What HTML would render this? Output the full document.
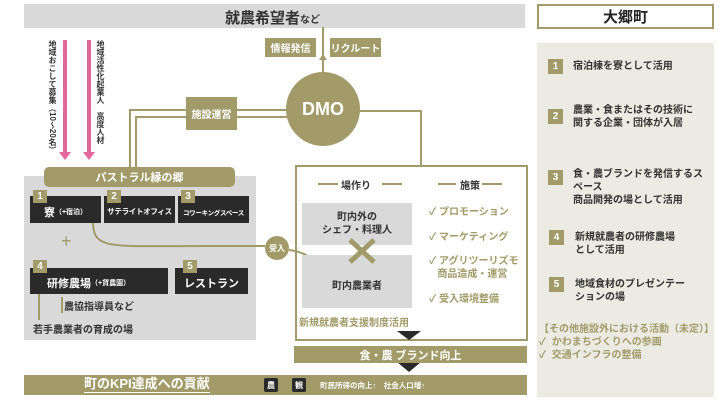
<!DOCTYPE html>
<html><head><meta charset="utf-8"><style>
*{margin:0;padding:0;box-sizing:border-box}
body{width:720px;height:405px;background:#fff;position:relative;overflow:hidden;font-family:"Liberation Sans","Noto Sans CJK JP",sans-serif;font-weight:bold;color:#333}
.a{position:absolute}
.ol{background:#a29b69;color:#fff}
.dk{background:#2a2a2a;color:#fff}
.c{display:flex;align-items:center;justify-content:center;text-align:center;white-space:nowrap}
.badge{position:absolute;width:14px;height:13px;background:#a29b69;color:#fff;font-size:10px;line-height:13px;text-align:center}
.vt{writing-mode:vertical-rl;font-size:8px;color:#333;line-height:9px}
.rp{font-size:10px;line-height:13px;color:#333}
.rb{position:absolute;width:15px;height:15px;background:#a29b69;color:#fff;font-size:10px;text-align:center;line-height:15px}
</style></head><body>
<div class="a" style="left:24px;top:4px;width:501px;height:24px;background:#d9d9d9"></div>
<div class="a" style="left:225px;top:7px;font-size:15px;color:#333">就農希望者<span style="font-size:10px">など</span></div>
<div class="a" style="left:24px;top:176px;width:232px;height:164px;background:#d9d9d9"></div>
<svg class="a" style="left:0;top:0" width="720" height="405">
<g fill="#e2679a">
<rect x="63" y="40" width="4" height="113"/><polygon points="59,152 71,152 65,160"/>
<rect x="87" y="40" width="4" height="113"/><polygon points="83,152 95,152 89,160"/>
</g>
<g stroke="#a29b69" stroke-width="2" fill="none">
<line x1="323" y1="75" x2="323" y2="27"/>
<polyline points="355,111 421,111 421,166"/>
<polyline points="290,110 130,110 130,168"/>
<polyline points="290,117 136,117 136,168"/>
<rect x="296" y="166" width="231" height="174"/>
<path d="M93,222 C93,250 110,246 200,246 L265,246"/>
<path d="M289,250 C305,252 312,258 318,266"/>
<line x1="39" y1="286" x2="39" y2="320"/>
<line x1="318" y1="184" x2="338" y2="184"/><line x1="382" y1="184" x2="402" y2="184"/>
<line x1="438" y1="184" x2="456" y2="184"/><line x1="482" y1="184" x2="502" y2="184"/>
<line x1="62" y1="297" x2="62" y2="313"/>
</g>
<polygon points="319,60 323,54 327,60" fill="#a29b69"/>
<polygon points="313,264 321,270 318,261" fill="#a29b69"/>
<circle cx="39" cy="286" r="2" fill="#a29b69"/>
<circle cx="323" cy="109" r="37" fill="#a29b69"/>
<circle cx="277" cy="248" r="12" fill="#a29b69"/>
<polygon points="397,331 421,331 409,340" fill="#2a2a2a"/>
<polygon points="397,362 421,362 409,372" fill="#2a2a2a"/>
</svg>
<div class="a c" style="left:290px;top:96px;width:66px;height:26px;color:#fff;font-size:18px">DMO</div>
<div class="a c" style="left:268px;top:240px;width:18px;height:16px;color:#fff;font-size:8px">受入</div>
<div class="a ol c" style="left:265px;top:38px;width:51px;height:19px;font-size:10px">情報発信</div>
<div class="a ol c" style="left:330px;top:38px;width:51px;height:19px;font-size:10px">リクルート</div>
<div class="a ol c" style="left:186px;top:97px;width:51px;height:33px;font-size:10px">施設運営</div>
<div class="vt a" style="left:48px;top:40px">地域おこして募集（10〜20名）</div>
<div class="vt a" style="left:96px;top:40px">地域活性化起業人　高度人材</div>
<div class="a ol c" style="left:44px;top:167px;width:191px;height:20px;border-radius:5px;font-size:11px">パストラル縁の郷</div>
<div class="a dk c" style="left:30px;top:196px;width:71px;height:27px;font-size:11px;padding-top:4px">寮<span style="font-size:7px">（+宿泊）</span></div>
<div class="a dk c" style="left:104px;top:196px;width:71px;height:27px;font-size:7.5px;padding-top:4px;letter-spacing:-0.3px">サテライトオフィス</div>
<div class="a dk c" style="left:178px;top:196px;width:71px;height:27px;font-size:6.5px;padding-top:4px;letter-spacing:-0.3px">コワーキングスペース</div>
<div class="badge" style="left:33px;top:190px">1</div>
<div class="badge" style="left:107px;top:190px">2</div>
<div class="badge" style="left:181px;top:190px">3</div>
<div class="a" style="left:61px;top:231px;font-size:18px;color:#a29b69;font-weight:normal">+</div>
<div class="a dk c" style="left:30px;top:268px;width:138px;height:26px;font-size:11px;justify-content:flex-start;padding-left:17px;padding-top:3px">研修農場<span style="font-size:7px">（+貸農園）</span></div>
<div class="a dk c" style="left:175px;top:268px;width:73px;height:26px;font-size:11px;padding-top:3px">レストラン</div>
<div class="badge" style="left:33px;top:260px">4</div>
<div class="badge" style="left:183px;top:260px">5</div>
<div class="a" style="left:64px;top:298px;font-size:10px">農協指導員など</div>
<div class="a" style="left:33px;top:321px;font-size:10px">若手農業者の育成の場</div>
<div class="a" style="left:341px;top:177px;font-size:10px">場作り</div>
<div class="a" style="left:460px;top:177px;font-size:10px">施策</div>
<div class="a c" style="left:302px;top:203px;width:110px;height:42px;background:#d9d9d9;font-size:10px;line-height:13px">町内外の<br>シェフ・料理人</div>
<div class="a c" style="left:302px;top:255px;width:110px;height:53px;background:#d9d9d9;font-size:10px;padding-top:6px">町内農業者</div>
<svg class="a" style="left:0;top:0" width="720" height="405"><g stroke="#a29b69" stroke-width="5"><line x1="350" y1="240" x2="374" y2="262"/><line x1="374" y1="240" x2="350" y2="262"/></g></svg>
<div class="a" style="left:299px;top:314px;font-size:10px;color:#a29b69">新規就農者支援制度活用</div>
<div class="a" style="left:429px;top:206px;font-size:10px;color:#a29b69;line-height:13px">✓ プロモーション</div>
<div class="a" style="left:429px;top:231px;font-size:10px;color:#a29b69;line-height:13px">✓ マーケティング</div>
<div class="a" style="left:429px;top:255px;font-size:10px;color:#a29b69;line-height:13px">✓ アグリツーリズモ<br>&nbsp;&nbsp;&nbsp;商品造成・運営</div>
<div class="a" style="left:429px;top:293px;font-size:10px;color:#a29b69;line-height:13px">✓ 受入環境整備</div>
<div class="a ol c" style="left:294px;top:346px;width:233px;height:17px;font-size:11px">食・農 ブランド向上</div>
<div class="a ol" style="left:24px;top:375px;width:503px;height:20px"></div>
<div class="a" style="left:84px;top:376px;font-size:13px;color:#fff;border-bottom:1px solid #fff;line-height:16px">町のKPI達成への貢献</div>
<div class="a dk c" style="left:264px;top:378px;width:14px;height:14px;font-size:8px;border-radius:2px">農</div>
<div class="a dk c" style="left:292px;top:378px;width:14px;height:14px;font-size:8px;border-radius:2px">観</div>
<div class="a" style="left:320px;top:380px;font-size:7.5px;color:#fff">町民所得の向上↑　社会人口増↑</div>
<div class="a c" style="left:537px;top:4px;width:177px;height:25px;border:2px solid #a29b69;font-size:15px;color:#222">大郷町</div>
<div class="a" style="left:537px;top:43px;width:177px;height:354px;background:#ecebe3"></div>
<div class="rb" style="left:548px;top:59px">1</div><div class="a rp" style="left:573px;top:60px">宿泊棟を寮として活用</div>
<div class="rb" style="left:548px;top:109px">2</div><div class="a rp" style="left:573px;top:104px">農業・食またはその技術に<br>関する企業・団体が入居</div>
<div class="rb" style="left:548px;top:170px">3</div><div class="a rp" style="left:573px;top:168px">食・農ブランドを発信するス<br>ペース<br>商品開発の場として活用</div>
<div class="rb" style="left:549px;top:230px">4</div><div class="a rp" style="left:575px;top:231px">新規就農者の研修農場<br>として活用</div>
<div class="rb" style="left:549px;top:277px">5</div><div class="a rp" style="left:575px;top:278px">地域食材のプレゼンテー<br>ションの場</div>
<div class="a rp" style="left:539px;top:323px;color:#a29b69">【その他施設外における活動（未定）】<br>✓&nbsp;&nbsp;かわまちづくりへの参画<br>✓&nbsp;&nbsp;交通インフラの整備</div>
</body></html>
